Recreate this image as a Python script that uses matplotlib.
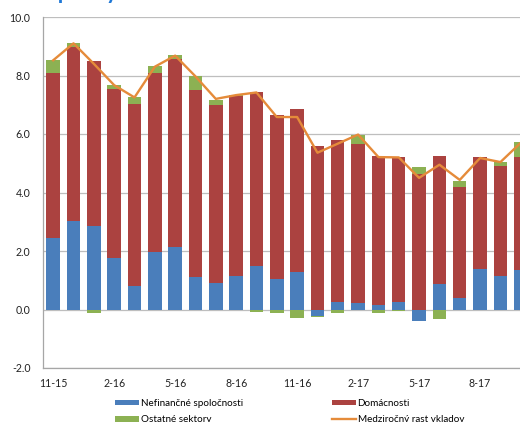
import numpy as np
import matplotlib
matplotlib.use("Agg")
import matplotlib.pyplot as plt

plt.rcParams['font.family'] = ['Lato', 'DejaVu Sans']

months = ["11-15", "12-15", "1-16", "2-16", "3-16", "4-16", "5-16", "6-16", "7-16",
          "8-16", "9-16", "10-16", "11-16", "12-16", "1-17", "2-17", "3-17", "4-17",
          "5-17", "6-17", "7-17", "8-17", "9-17", "10-17"]
nefin = [2.46, 3.01, 2.87, 1.77, 0.79, 1.97, 2.13, 1.12, 0.90, 1.16, 1.50, 1.03,
         1.27, -0.22, 0.27, 0.21, 0.14, 0.27, -0.38, 0.88, 0.40, 1.38, 1.16, 1.35]
domac = [5.61, 5.97, 5.63, 5.78, 6.25, 6.12, 6.44, 6.37, 6.08, 6.13, 5.95, 5.63,
         5.59, 5.58, 5.51, 5.46, 5.12, 4.93, 4.64, 4.38, 3.78, 3.82, 3.75, 3.85]
ostat = [0.45, 0.14, -0.13, 0.14, 0.24, 0.25, 0.13, 0.51, 0.19, 0.03, -0.07, -0.11,
         -0.30, -0.03, -0.11, 0.31, -0.11, -0.04, 0.23, -0.34, 0.23, -0.03, 0.13, 0.54]
rast = [8.52, 9.10, 8.40, 7.67, 7.25, 8.30, 8.68, 7.97, 7.20, 7.33, 7.42, 6.58,
        6.58, 5.36, 5.67, 5.98, 5.21, 5.20, 4.50, 4.95, 4.43, 5.18, 5.04, 5.70]
tick_labels = ["11-15", "2-16", "5-16", "8-16", "11-16", "2-17", "5-17", "8-17"]

labels = ["Nefinančné spoločnosti", "Domácnosti", "Ostatné sektory", "Medziročný rast vkladov"]
colors = ["#4A7EBB", "#AB4240", "#8CB153", "#E58B3A"]

W, H = 520, 422
fig = plt.figure(figsize=(W / 100, H / 100), dpi=100)
n = len(months)
slot = 20.33
ax = fig.add_axes([43 / W, 1 - 368 / H, n * slot / W, 351 / H])

x = np.arange(n)
pos_b = np.zeros(n)
neg_b = np.zeros(n)
handles = []
for vals, c, lab in zip([nefin, domac, ostat], colors[:3], labels[:3]):
    v = np.array(vals)
    bottom = np.where(v >= 0, pos_b, neg_b)
    h = ax.bar(x, v, bottom=bottom, width=0.66, color=c, label=lab, zorder=2, linewidth=0)
    handles.append(h)
    pos_b += np.where(v > 0, v, 0)
    neg_b += np.where(v < 0, v, 0)

ln, = ax.plot(x, rast, color=colors[3], lw=1.7, zorder=3, label=labels[3])

ax.set_xlim(-0.5, n - 0.5)
ax.set_ylim(-2.0, 10.0)
ax.set_yticks(np.arange(-2, 10.1, 2))
ax.set_yticklabels([f"{v:.1f}" for v in np.arange(-2, 10.1, 2)])
ax.set_xticks([months.index(m) for m in tick_labels])
ax.set_xticklabels(tick_labels)
ax.tick_params(axis='both', length=0, labelsize=7.6, colors="#222222")
ax.tick_params(axis='y', pad=9)
ax.tick_params(axis='x', pad=7)
ax.grid(axis='y', color="#BEBEBE", lw=0.9, zorder=0)
ax.set_axisbelow(True)
for s in ["top", "right"]:
    ax.spines[s].set_visible(False)
for s in ["left", "bottom"]:
    ax.spines[s].set_color("#A6A6A6")
    ax.spines[s].set_linewidth(0.9)

leg_kw = dict(frameon=False, fontsize=7.1, handlelength=2.4, handleheight=0.5,
              handletextpad=0.2, borderpad=0, labelspacing=0.75, loc='upper left')
leg1 = fig.legend([handles[0], handles[2]], [labels[0], labels[2]],
                  bbox_to_anchor=(110 / W, 1 - 394 / H), **leg_kw)
leg2 = fig.legend([handles[1], ln], [labels[1], labels[3]],
                  bbox_to_anchor=(327 / W, 1 - 394 / H), **leg_kw)

fig.text(20 / W, 1 + 1.5 / H, "Príspevky sektorov", color="#1F78D6", fontsize=16,
         fontweight='bold', va='baseline', ha='left')

fig.savefig("out.png", dpi=100)
